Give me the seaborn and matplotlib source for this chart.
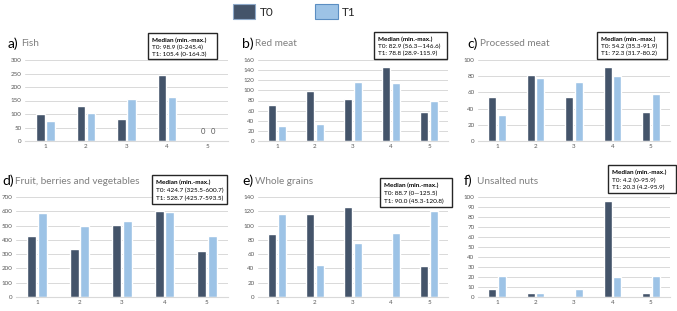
import matplotlib
matplotlib.use("Agg")
import pandas as pd
import matplotlib.pyplot as plt
import seaborn as sns
from matplotlib.patches import Patch, Rectangle

sns.set_theme(style="white")
plt.rcParams['font.family'] = ['Lato', 'DejaVu Sans']

# Data
categories = ["1", "2", "3", "4", "5"]
groups = ["T0", "T1"]

fish_t0 = [98.9, 128, 82, 245.4, 0]
fish_t1 = [73, 105.4, 157, 164.3, 0]
red_t0 = [72, 99, 82.9, 146.6, 56.3]
red_t1 = [28.9, 34, 115.9, 115.5, 78.8]
proc_t0 = [54.2, 81, 54.2, 91.9, 35.3]
proc_t1 = [31.7, 78, 72.3, 80.2, 58]
fruit_t0 = [424.7, 333, 505, 600.7, 325.5]
fruit_t1 = [586, 496, 528.7, 593.5, 425.7]
grain_t0 = [88.7, 116, 125.5, 0, 44]
grain_t1 = [116, 45.3, 75, 90.0, 120.8]
nuts_t0 = [8, 4.2, 0, 95.9, 4.2]
nuts_t1 = [20.8, 4.2, 8, 20.3, 20.8]

letters = ["a)", "b)", "c)", "d)", "e)", "f)"]
names = ["Fish", "Red meat", "Processed meat", "Fruit, berries and vegetables",
         "Whole grains", "Unsalted nuts"]
medians = [
    ["T0: 98.9 (0-245.4)", "T1: 105.4 (0-164.3)"],
    ["T0: 82.9 (56.3\u2014146.6)", "T1: 78.8 (28.9-115.9)"],
    ["T0: 54.2 (35.3-91.9)", "T1: 72.3 (31.7-80.2)"],
    ["T0: 424.7 (325.5-600.7)", "T1: 528.7 (425.7-593.5)"],
    ["T0: 88.7 (0\u2014125.5)", "T1: 90.0 (45.3-120.8)"],
    ["T0: 4.2 (0-95.9)", "T1: 20.3 (4.2-95.9)"],
]
series = [(fish_t0, fish_t1), (red_t0, red_t1), (proc_t0, proc_t1),
          (fruit_t0, fruit_t1), (grain_t0, grain_t1), (nuts_t0, nuts_t1)]
ymax = [300, 160, 100, 700, 140, 100]
ystep = [50, 20, 20, 100, 20, 10]

# layout in pixels: axes (left, top, right, bottom), box (left, top, right, bottom), title
axes_px = [(25, 60, 228, 141), (258, 60, 448, 141), (478, 60, 670, 141),
           (16, 197, 228, 297), (258, 197, 448, 297), (478, 197, 670, 297)]
box_px = [(148, 33, 217, 59), (374, 32, 447, 59), (597, 32, 667, 59),
          (152, 175, 227, 204), (380, 178, 452, 207), (608, 165, 676, 193)]
title_px = [(8, 44), (242, 44), (467, 44), (2, 181), (242, 181), (464, 181)]

W, H = 677, 311
c0, c1 = "#44546A", "#9DC3E6"
grey = "#595959"

fig = plt.figure(figsize=(W / 100, H / 100), dpi=100)

for i in range(6):
    t0, t1 = series[i]
    df = pd.DataFrame({
        "cat": categories * 2,
        "val": list(t0) + list(t1),
        "time": ["T0"] * 5 + ["T1"] * 5,
    })
    l, t, r, b = axes_px[i]
    ax = fig.add_axes([l / W, 1 - b / H, (r - l) / W, (b - t) / H])
    sns.barplot(data=df, x="cat", y="val", hue="time", palette=[c0, c1],
                width=0.5, gap=0.15, ax=ax, legend=False, saturation=1)
    ax.set_xlim(-0.5, 4.5)
    ax.set_ylim(0, ymax[i])
    ax.set_yticks(range(0, ymax[i] + 1, ystep[i]))
    ax.set_xlabel("")
    ax.set_ylabel("")
    ax.grid(axis="y", color="#D9D9D9", lw=0.7)
    ax.set_axisbelow(True)
    for s in ["top", "right", "left"]:
        ax.spines[s].set_visible(False)
    ax.spines["bottom"].set_color("#D9D9D9")
    ax.spines["bottom"].set_linewidth(0.8)
    ax.tick_params(axis="both", length=0, labelsize=4.5, labelcolor=grey, pad=2.5)

    if i == 0:
        for cont, vals in zip(ax.containers, [t0, t1]):
            labs = ["0" if v == 0 and k == 4 else "" for k, v in enumerate(vals)]
            ax.bar_label(cont, labels=labs, padding=4, fontsize=5.5, color=grey)

    tx, ty = title_px[i]
    fig.text(tx / W, 1 - ty / H, letters[i], fontsize=10, color="black", va="center")
    fig.text((tx + 13) / W, 1 - ty / H, names[i], fontsize=7.2, color="#7F7F7F", va="center")

    bl, bt, br, bb = box_px[i]
    fig.add_artist(Rectangle((bl / W, 1 - bb / H), (br - bl) / W, (bb - bt) / H,
                             transform=fig.transFigure, facecolor="white",
                             edgecolor="#262626", lw=1.0))
    lh = (bb - bt) * 0.27
    fig.text((bl + 4) / W, 1 - (bt + lh) / H, "Median (min.-max.)",
             fontsize=4.6, fontweight="bold", color="black", va="center")
    for j, line in enumerate(medians[i]):
        fig.text((bl + 4) / W, 1 - (bt + lh * (j + 2)) / H, line,
                 fontsize=4.6, color="black", va="center")

handles = [Patch(facecolor=c0, edgecolor="#8EA9C9", lw=0.8, label="T0"),
           Patch(facecolor=c1, edgecolor="#5B8EC2", lw=0.8, label="T1")]
fig.legend(handles=handles, loc="upper center", bbox_to_anchor=(0.435, 1.02), ncol=2,
           frameon=False, fontsize=8.5, handlelength=1.9, handleheight=1.5,
           columnspacing=3.5, handletextpad=0.4)

fig.savefig("out.png", dpi=100)
